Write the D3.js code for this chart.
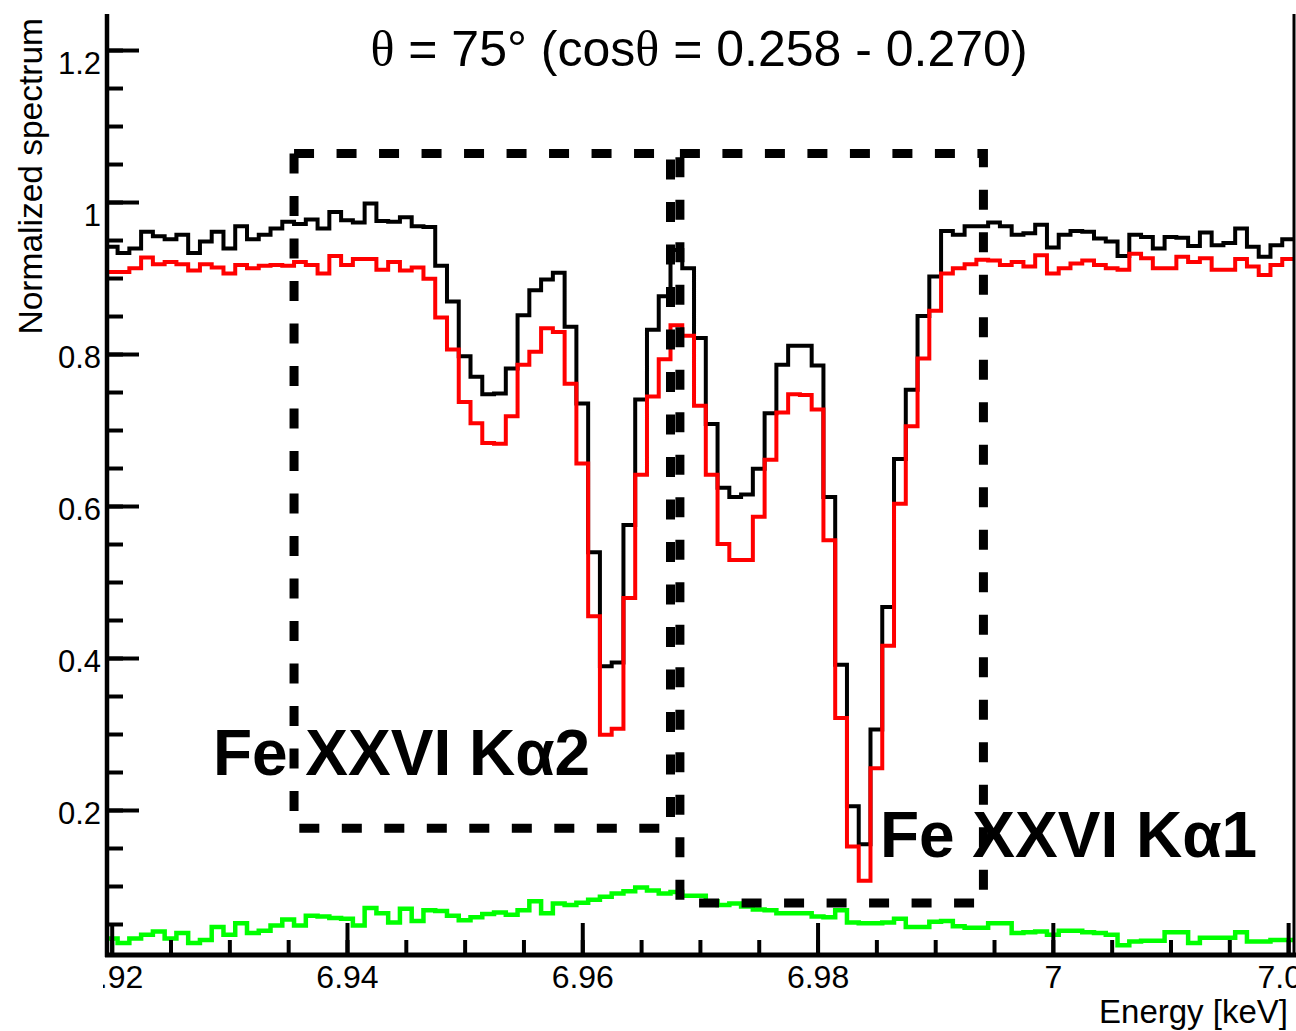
<!DOCTYPE html>
<html>
<head>
<meta charset="utf-8">
<script src="https://cdn.jsdelivr.net/npm/d3@7"></script>
<style>
body { margin: 0; background: #fff; }
text { font-family: "Liberation Sans", Arial, Helvetica, sans-serif; fill: #000; }
</style>
</head>
<body>
<div id="chart"></div>
<script>
// histogram binning (keV)
const binStart = 6.9195;
const binWidth = 0.001;

// normalized spectra, one value per bin
const blackSpec = [
  0.941,0.933,0.939,0.961,0.955,0.951,0.957,0.933,0.948,0.961,
  0.939,0.968,0.951,0.957,0.965,0.974,0.971,0.977,0.965,0.987,
  0.976,0.973,0.998,0.975,0.974,0.980,0.968,0.967,0.916,0.869,
  0.797,0.770,0.747,0.748,0.781,0.851,0.884,0.898,0.907,0.836,
  0.735,0.539,0.389,0.394,0.575,0.740,0.832,0.876,0.937,0.913,
  0.821,0.708,0.624,0.612,0.615,0.649,0.722,0.786,0.811,0.811,
  0.785,0.612,0.391,0.205,0.155,0.306,0.467,0.662,0.753,0.850,
  0.902,0.962,0.957,0.968,0.968,0.973,0.968,0.957,0.959,0.970,
  0.940,0.957,0.962,0.961,0.952,0.948,0.929,0.957,0.954,0.939,
  0.954,0.953,0.942,0.960,0.943,0.946,0.965,0.941,0.928,0.943,
  0.951
];
const redSpec = [
  0.908,0.908,0.913,0.927,0.918,0.921,0.918,0.910,0.918,0.914,
  0.906,0.917,0.913,0.916,0.917,0.916,0.921,0.917,0.906,0.929,
  0.917,0.925,0.925,0.911,0.921,0.910,0.914,0.899,0.848,0.806,
  0.737,0.709,0.683,0.682,0.718,0.786,0.803,0.834,0.829,0.761,
  0.656,0.455,0.299,0.307,0.479,0.641,0.744,0.793,0.838,0.824,
  0.732,0.641,0.550,0.529,0.529,0.586,0.661,0.723,0.747,0.746,
  0.727,0.555,0.321,0.152,0.107,0.255,0.416,0.603,0.705,0.794,
  0.857,0.906,0.913,0.918,0.924,0.923,0.917,0.921,0.915,0.930,
  0.906,0.913,0.919,0.923,0.917,0.913,0.911,0.932,0.926,0.913,
  0.913,0.928,0.921,0.926,0.911,0.911,0.925,0.915,0.904,0.917,
  0.925
];
const greenSpec = [
  0.031,0.025,0.031,0.036,0.040,0.031,0.038,0.025,0.029,0.046,
  0.036,0.051,0.038,0.041,0.048,0.056,0.048,0.061,0.060,0.058,
  0.057,0.048,0.071,0.064,0.052,0.070,0.054,0.068,0.067,0.061,
  0.055,0.059,0.063,0.065,0.062,0.068,0.080,0.064,0.077,0.075,
  0.078,0.082,0.086,0.090,0.093,0.098,0.094,0.090,0.092,0.087,
  0.087,0.080,0.075,0.077,0.073,0.069,0.068,0.064,0.064,0.064,
  0.060,0.059,0.068,0.052,0.051,0.051,0.052,0.057,0.046,0.046,
  0.053,0.054,0.047,0.045,0.045,0.051,0.051,0.038,0.039,0.040,
  0.036,0.041,0.041,0.039,0.038,0.036,0.022,0.027,0.028,0.028,
  0.039,0.039,0.025,0.032,0.032,0.032,0.039,0.027,0.027,0.029,
  0.029
];

const xTickValues = [6.92, 6.94, 6.96, 6.98, 7.00, 7.02];
const xTickLabels = ["6.92", "6.94", "6.96", "6.98", "7", "7.02"];
const yTickValues = [0.2, 0.4, 0.6, 0.8, 1.0, 1.2];
const yTickLabels = ["0.2", "0.4", "0.6", "0.8", "1", "1.2"];

// line windows: [E low, E high, level low, level high]
const windows = [
  [6.9355, 6.9675, 0.176, 1.064],
  [6.9683, 6.9941, 0.0776, 1.064]
];
const lineNames = ["Fe XXVI K\u03b12", "Fe XXVI K\u03b11"];
const lineNameE = [6.9286, 6.9853];
const lineNameV = [0.246, 0.138];

const width = 1296, height = 1031;

const svg = d3.select("#chart").append("svg")
    .attr("width", width)
    .attr("height", height)
    .attr("viewBox", [0, 0, width, height]);

const x = d3.scaleLinear().domain([6.9196, 7.0205]).range([107, 1294]);
const y = d3.scaleLinear().domain([0.0092, 1.2474]).range([955, 14]);

function histLine(vals){
    let pts = vals.map((v, i) => [binStart + i * binWidth, v]);
    pts.push([binStart + vals.length * binWidth, vals[vals.length - 1]]);
    return d3.line()
        .x(d => x(d[0]))
        .y(d => y(d[1]))
        .curve(d3.curveStepAfter)(pts);
}

svg.append("defs").append("clipPath")
    .attr("id", "plotclip")
  .append("rect")
    .attr("x", 107).attr("y", 0)
    .attr("width", 1190).attr("height", 960);

const plot = svg.append("g").attr("clip-path", "url(#plotclip)");

[[greenSpec, "#00ff00", 4.5], [blackSpec, "#000000", 4], [redSpec, "#ff0000", 4]].forEach(s => {
    plot.append("path")
        .attr("d", histLine(s[0]))
        .attr("fill", "none")
        .attr("stroke", s[1])
        .attr("stroke-width", s[2])
        .attr("stroke-linejoin", "miter");
});

// dashed windows
windows.forEach(w => {
    svg.append("rect")
        .attr("x", x(w[0]))
        .attr("y", y(w[3]))
        .attr("width", x(w[1]) - x(w[0]))
        .attr("height", y(w[2]) - y(w[3]))
        .attr("fill", "none")
        .attr("stroke", "#000")
        .attr("stroke-width", 9)
        .attr("stroke-dasharray", "20 22.5");
});

// x axis
const xMinor = d3.range(6.92, 7.0201, 0.005);
const gxMinor = svg.append("g").attr("transform", "translate(0,955)")
    .call(d3.axisBottom(x).tickValues(xMinor).tickSize(-15).tickSizeOuter(0).tickFormat(""));
svg.append("defs").append("clipPath")
    .attr("id", "xlabclip")
  .append("rect")
    .attr("x", 103).attr("y", -60)
    .attr("width", 1200).attr("height", 140);
const gx = svg.append("g").attr("transform", "translate(0,955)")
    .attr("clip-path", "url(#xlabclip)")
    .call(d3.axisBottom(x).tickValues(xTickValues)
        .tickFormat((d, i) => xTickLabels[i])
        .tickSize(-32).tickSizeOuter(0).tickPadding(10));

// y axis
const yMinor = d3.range(0.05, 1.2401, 0.05);
const gyMinor = svg.append("g").attr("transform", "translate(107,0)")
    .call(d3.axisLeft(y).tickValues(yMinor).tickSize(-16).tickSizeOuter(0).tickFormat(""));
const gy = svg.append("g").attr("transform", "translate(107,0)")
    .call(d3.axisLeft(y).tickValues(yTickValues)
        .tickFormat((d, i) => yTickLabels[i])
        .tickSize(-32).tickSizeOuter(0).tickPadding(6));

[gxMinor, gx, gyMinor, gy].forEach(g => {
    g.select(".domain").remove();
    g.selectAll(".tick line").attr("stroke", "#000").attr("stroke-width", 4);
});
gx.selectAll(".tick text").attr("font-size", 32).attr("font-family", null);
gy.selectAll(".tick text").attr("font-size", 31).attr("font-family", null)
    .attr("dy", d => d >= 1 ? "0.75em" : "0.45em");

// axis lines
svg.append("line")
    .attr("x1", 105).attr("x2", 1296)
    .attr("y1", 955).attr("y2", 955)
    .attr("stroke", "#000").attr("stroke-width", 5);
svg.append("line")
    .attr("x1", 107).attr("x2", 107)
    .attr("y1", 957).attr("y2", 14)
    .attr("stroke", "#000").attr("stroke-width", 4.5);
svg.append("line")
    .attr("x1", 1294).attr("x2", 1294)
    .attr("y1", 957).attr("y2", 14)
    .attr("stroke", "#000").attr("stroke-width", 3);

// axis titles
svg.append("text")
    .attr("x", 1288).attr("y", 1023)
    .attr("text-anchor", "end")
    .attr("font-size", 33)
    .text("Energy [keV]");
svg.append("text")
    .attr("transform", "translate(42,18) rotate(-90)")
    .attr("text-anchor", "end")
    .attr("font-size", 33.5)
    .text("Normalized spectrum");

// title
const title = svg.append("text")
    .attr("x", 699).attr("y", 66)
    .attr("text-anchor", "middle")
    .attr("font-size", 50);
title.append("tspan").attr("font-family", "'Liberation Serif', serif").text("\u03b8");
title.append("tspan").text(" = 75\u00b0 (cos");
title.append("tspan").attr("font-family", "'Liberation Serif', serif").text("\u03b8");
title.append("tspan").text(" = 0.258 - 0.270)");

// line labels
lineNames.forEach((t, i) => {
    svg.append("text")
        .attr("x", x(lineNameE[i]))
        .attr("y", y(lineNameV[i]))
        .attr("font-size", 64)
        .attr("font-weight", "bold")
        .text(t);
});
</script>
</body>
</html>
